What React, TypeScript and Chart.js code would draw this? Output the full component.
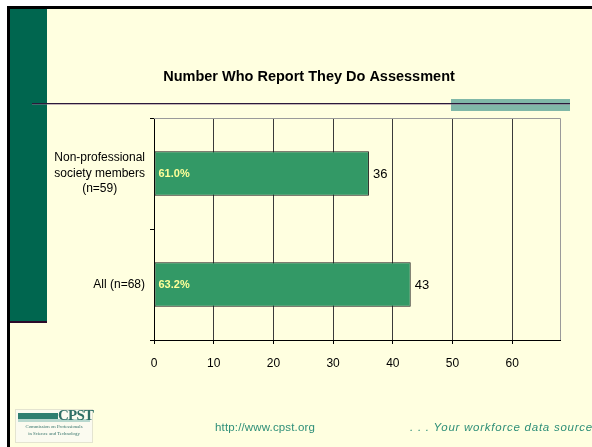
import React, { useEffect, useRef } from "react";
import { Chart, registerables } from "chart.js";

Chart.register(...registerables);

const categories: (string | string[])[] = [
  ["Non-professional", "society members", "(n=59)"],
  "All (n=68)",
];
const values: number[] = [36, 43];
const percentLabels: string[] = ["61.0%", "63.2%"];
const xTicks: number[] = [0, 10, 20, 30, 40, 50, 60];
const xMax = 68;
const title = "Number Who Report They Do Assessment";

const FONT = "'Liberation Sans', Arial, sans-serif";

const barLabels = {
  id: "barLabels",
  afterDatasetsDraw(chart: any) {
    const ctx = chart.ctx;
    const meta = chart.getDatasetMeta(0);
    ctx.save();
    meta.data.forEach((bar: any, i: number) => {
      const left = bar.base;
      const right = bar.x;
      const y = bar.y;
      ctx.textBaseline = "middle";
      ctx.textAlign = "left";
      ctx.fillStyle = "#FFFF99";
      ctx.font = "bold 11px " + FONT;
      ctx.fillText(percentLabels[i], left + 4, y);
      ctx.fillStyle = "#000000";
      ctx.font = "13px " + FONT;
      ctx.fillText(String(values[i]), right + 4, y + 1);
    });
    ctx.restore();
  },
};

// Category labels: block right-aligned to the axis, lines centered within the block
const yLabels = {
  id: "yLabels",
  afterDraw(chart: any) {
    const ctx = chart.ctx;
    const scale = chart.scales.y;
    const lineH = 15.5;
    ctx.save();
    ctx.font = "12px " + FONT;
    ctx.fillStyle = "#000000";
    ctx.textBaseline = "middle";
    ctx.textAlign = "center";
    categories.forEach((cat, i) => {
      const lines = Array.isArray(cat) ? cat : [cat];
      const w = Math.max(...lines.map((l) => ctx.measureText(l).width));
      const right = scale.right - 9;
      const cx = right - w / 2;
      const cy = scale.getPixelForValue(i);
      const top = cy - ((lines.length - 1) * lineH) / 2;
      lines.forEach((l, j) => ctx.fillText(l, cx, top + j * lineH));
    });
    ctx.restore();
  },
};

const frameBorder = {
  id: "frameBorder",
  beforeDatasetsDraw(chart: any) {
    const { ctx, chartArea } = chart;
    ctx.save();
    ctx.strokeStyle = "#9a9a9a";
    ctx.lineWidth = 1;
    ctx.beginPath();
    ctx.moveTo(chartArea.left, chartArea.top + 0.5);
    ctx.lineTo(chartArea.right + 0.5, chartArea.top + 0.5);
    ctx.lineTo(chartArea.right + 0.5, chartArea.bottom);
    ctx.stroke();
    ctx.restore();
  },
};

function BarChart() {
  const ref = useRef<HTMLCanvasElement | null>(null);
  useEffect(() => {
    if (!ref.current) return;
    const chart = new Chart(ref.current, {
      type: "bar",
      data: {
        labels: categories,
        datasets: [
          {
            data: values,
            backgroundColor: "#339966",
            borderColor: "#1a1a1a",
            borderWidth: 1,
            borderSkipped: false,
            categoryPercentage: 1,
            barPercentage: 0.4,
          },
        ],
      },
      options: {
        indexAxis: "y",
        animation: false,
        responsive: false,
        maintainAspectRatio: false,
        layout: { padding: { left: 18, right: 18, top: 0, bottom: 0 } },
        plugins: {
          legend: { display: false },
          tooltip: { enabled: false },
          title: {
            display: true,
            text: title,
            color: "#000000",
            font: { family: FONT, size: 14.5, weight: "bold", lineHeight: 1.2 },
            padding: { top: 68, bottom: 32.6 },
          },
        },
        scales: {
          x: {
            type: "linear",
            min: 0,
            max: xMax,
            afterFit(scale: any) {
              scale.height = 107;
            },
            afterBuildTicks(scale: any) {
              scale.ticks = xTicks.map((v) => ({ value: v }));
            },
            ticks: {
              color: "#000000",
              font: { family: FONT, size: 12 },
              padding: 12,
              maxRotation: 0,
              includeBounds: false,
            },
            grid: {
              color: "#3a3a3a",
              lineWidth: 1,
              drawTicks: true,
              tickLength: 4,
              tickColor: "#000000",
            },
            border: { color: "#000000", width: 1 },
          },
          y: {
            type: "category",
            afterFit(scale: any) {
              scale.width = 96;
            },
            ticks: { display: false },
            grid: {
              offset: true,
              drawOnChartArea: false,
              drawTicks: true,
              tickLength: 4,
              tickColor: "#000000",
            },
            border: { color: "#000000", width: 1 },
          },
        },
      },
      plugins: [frameBorder, barLabels, yLabels],
    } as any);
    return () => chart.destroy();
  }, []);
  return (
    <canvas
      ref={ref}
      width={538}
      height={447}
      style={{ position: "absolute", left: 40, top: 0, width: 538, height: 447 }}
    />
  );
}

export default function App() {
  return (
    <div
      style={{
        position: "fixed",
        left: 0,
        top: 0,
        width: 592,
        height: 447,
        overflow: "hidden",
        background: "#ffffff",
        fontFamily: FONT,
      }}
    >
      {/* slide background */}
      <div style={{ position: "absolute", left: 7, top: 6, width: 585, height: 441, background: "#FFFFE0" }} />
      {/* outer border top & left */}
      <div style={{ position: "absolute", left: 7, top: 6, width: 585, height: 3, background: "#000" }} />
      <div style={{ position: "absolute", left: 7, top: 6, width: 3, height: 441, background: "#000" }} />
      {/* green side bar */}
      <div style={{ position: "absolute", left: 10, top: 9, width: 37, height: 313, background: "#00664F" }} />
      <div style={{ position: "absolute", left: 10, top: 321, width: 37, height: 2, background: "#2a0a2a" }} />
      {/* teal rect + rule */}
      <div style={{ position: "absolute", left: 451, top: 99, width: 119, height: 12, background: "#80B8A8" }} />
      <div style={{ position: "absolute", left: 32, top: 103, width: 538, height: 1, background: "#2a1a3a" }} />
      <div style={{ position: "absolute", left: 32, top: 104, width: 538, height: 1, background: "#8a6a8a", opacity: 0.5 }} />
      <BarChart />
      {/* logo */}
      <div
        style={{
          position: "absolute",
          left: 15,
          top: 409,
          width: 78,
          height: 34,
          background: "#fbfbf0",
          border: "1px solid #e4e4d0",
          boxSizing: "border-box",
        }}
      />
      <div style={{ position: "absolute", left: 18, top: 413, width: 40, height: 6, background: "#2f7f70" }} />
      <div style={{ position: "absolute", left: 18, top: 419, width: 72, height: 3, background: "#b8d8ce" }} />
      <div
        style={{
          position: "absolute",
          left: 58,
          top: 407,
          fontFamily: "'Liberation Serif', serif",
          fontWeight: "bold",
          fontSize: 15,
          color: "#2f6f66",
          letterSpacing: -0.8,
        }}
      >
        CPST
      </div>
      <div
        style={{
          position: "absolute",
          left: 16,
          top: 424,
          width: 76,
          fontFamily: "'Liberation Serif', serif",
          fontSize: 4.8,
          lineHeight: "6.5px",
          color: "#2f6f66",
          textAlign: "center",
          whiteSpace: "nowrap",
        }}
      >
        Commission on Professionals
        <br />
        in Science and Technology
      </div>
      {/* footer text */}
      <div
        style={{
          position: "absolute",
          left: 215,
          top: 421,
          fontSize: 11.5,
          letterSpacing: 0.15,
          color: "#2e8f78",
          whiteSpace: "nowrap",
        }}
      >
        http://www.cpst.org
      </div>
      <div
        style={{
          position: "absolute",
          left: 410,
          top: 421,
          fontSize: 11.5,
          letterSpacing: 0.75,
          fontStyle: "italic",
          color: "#2e8f78",
          whiteSpace: "nowrap",
        }}
      >
        . . . Your workforce data source
      </div>
    </div>
  );
}
